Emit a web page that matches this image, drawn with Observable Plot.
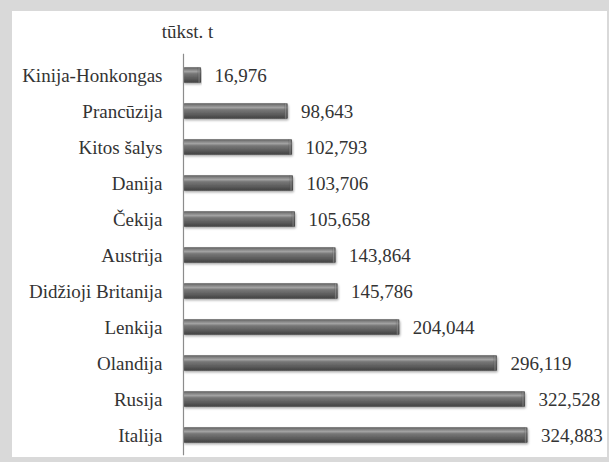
<!DOCTYPE html>
<html>
<head>
<meta charset="utf-8">
<script src="https://cdn.jsdelivr.net/npm/d3@7"></script>
<script src="https://cdn.jsdelivr.net/npm/@observablehq/plot@0.6"></script>
<style>
  html, body { margin: 0; padding: 0; background: #d9d9d9; width: 609px; height: 462px; overflow: hidden; }
  #frame { position: absolute; left: 12px; top: 11px; width: 595px; height: 446px; background: #fff; }
  #frame svg { display: block; }
</style>
</head>
<body>
<div id="frame"></div>
<script>
const categories = ["Kinija-Honkongas", "Prancūzija", "Kitos šalys", "Danija", "Čekija", "Austrija", "Didžioji Britanija", "Lenkija", "Olandija", "Rusija", "Italija"];
const values = [16.976, 98.643, 102.793, 103.706, 105.658, 143.864, 145.786, 204.044, 296.119, 322.528, 324.883];
const unitLabel = "tūkst. t";

const data = categories.map((c, i) => ({country: c, value: values[i]}));
const fmt = v => d3.format(".3f")(v).replace(".", ",");
const serif = "Liberation Serif";

const chart = Plot.plot({
  width: 595,
  height: 446,
  marginLeft: 171,
  marginRight: 53,
  marginTop: 42.75,
  marginBottom: 1.75,
  style: {fontSize: "19px", fontFamily: serif, color: "#333", background: "#fff"},
  x: {domain: [0, 350], axis: null},
  y: {domain: categories, padding: 0, axis: null},
  marks: [
    Plot.axisY({tickSize: 0, tickPadding: 21, label: null, fontFamily: serif, fontSize: 19, fill: "#333"}),
    Plot.barX(data, {x: "value", y: "country", fill: "url(#barGrad)", insetTop: 10.25, insetBottom: 10.25, rx: 1.5}),
    Plot.text(data, {x: "value", y: "country", text: d => fmt(d.value), textAnchor: "start", dx: 13, fill: "#333", fontSize: 19, fontFamily: serif}),
    Plot.ruleX([0], {stroke: "#8c8c8c", strokeWidth: 1.2}),
    Plot.text([unitLabel], {x: 0, frameAnchor: "top", dy: -30, dx: 4, fill: "#333", fontSize: 19, fontFamily: serif})
  ]
});

const svg = d3.select(chart);
svg.selectAll("text").style("font-family", "'Liberation Serif', serif").style("font-size", "19px");
const defs = svg.insert("defs", ":first-child");
const g = defs.append("linearGradient").attr("id", "barGrad").attr("x1", 0).attr("y1", 0).attr("x2", 0).attr("y2", 1);
[[0, "#555555"], [0.1, "#7a7a7a"], [0.28, "#a2a2a2"], [0.42, "#777777"], [0.75, "#595959"], [1, "#404040"]]
  .forEach(([o, c]) => g.append("stop").attr("offset", o).attr("stop-color", c));
const eg = defs.append("linearGradient").attr("id", "endGrad").attr("x1", 0).attr("y1", 0).attr("x2", 1).attr("y2", 0);
[[0, "rgba(40,40,40,0)"], [0.5, "rgba(150,150,150,0.55)"], [1, "rgba(40,40,40,0.6)"]]
  .forEach(([o, c]) => eg.append("stop").attr("offset", o).attr("stop-color", c));
const f = defs.append("filter").attr("id", "shadow").attr("x", "-5%").attr("y", "-30%").attr("width", "110%").attr("height", "180%");
f.append("feDropShadow").attr("dx", 1).attr("dy", 1.5).attr("stdDeviation", 1).attr("flood-color", "#000").attr("flood-opacity", 0.35);
svg.selectAll("g[aria-label='bar'] rect").attr("filter", "url(#shadow)").each(function() {
  const r = d3.select(this);
  const x = +r.attr("x"), w = +r.attr("width"), y = +r.attr("y"), h = +r.attr("height");
  d3.select(this.parentNode).append("rect")
    .attr("x", x + w - 4).attr("y", y).attr("width", 4).attr("height", h)
    .attr("fill", "url(#endGrad)");
});

document.getElementById("frame").appendChild(chart);
</script>
</body>
</html>
